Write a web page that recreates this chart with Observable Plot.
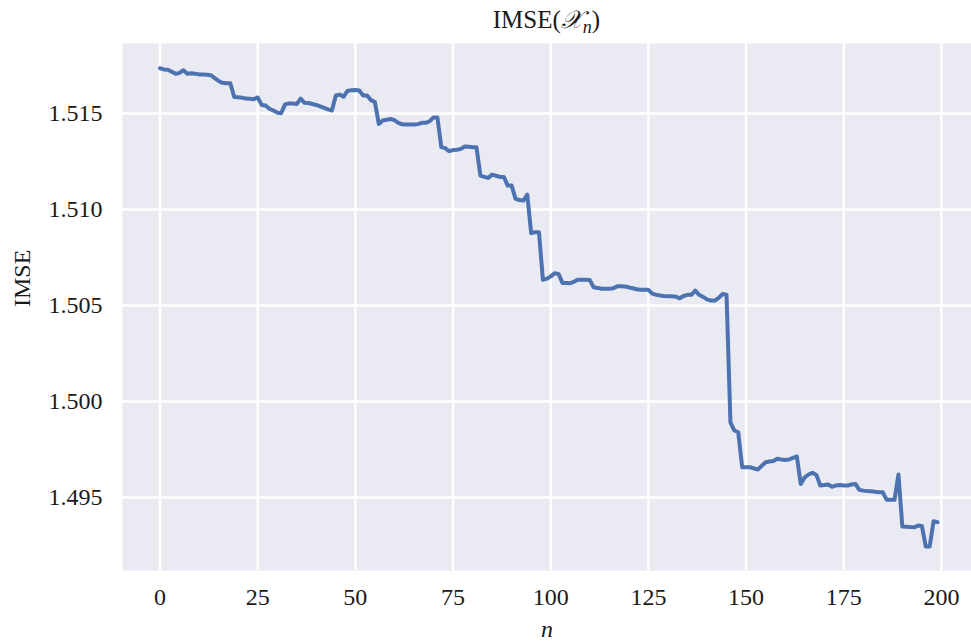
<!DOCTYPE html>
<html><head><meta charset="utf-8">
<script src="https://cdn.jsdelivr.net/npm/d3@7"></script>
<script src="https://cdn.jsdelivr.net/npm/@observablehq/plot@0.6"></script>
<style>body{margin:0;background:#fff;} svg{display:block}</style>
</head><body><div id="chart"></div>
<script>
const imse = [
1.51736,1.51730,1.51728,1.51718,1.51707,1.51712,1.51726,1.51708,1.51710,1.51708,
1.51704,1.51703,1.51702,1.51700,1.51685,1.51670,1.51660,1.51658,1.51658,1.51586,
1.51585,1.51583,1.51578,1.51577,1.51575,1.51584,1.51545,1.51542,1.51525,1.51516,
1.51505,1.51502,1.51548,1.51553,1.51552,1.51550,1.51578,1.51556,1.51555,1.51550,
1.51545,1.51538,1.51530,1.51522,1.51516,1.51594,1.51599,1.51588,1.51618,1.51622,
1.51623,1.51620,1.51594,1.51594,1.51570,1.51560,1.51446,1.51464,1.51468,1.51472,
1.51466,1.51452,1.51444,1.51443,1.51443,1.51443,1.51445,1.51452,1.51452,1.51460,
1.51480,1.51480,1.51325,1.51320,1.51304,1.51310,1.51312,1.51316,1.51328,1.51327,
1.51325,1.51325,1.51177,1.51170,1.51165,1.51182,1.51176,1.51170,1.51170,1.51125,
1.51125,1.51056,1.51050,1.51047,1.51078,1.50877,1.50882,1.50882,1.50634,1.50640,
1.50652,1.50668,1.50665,1.50618,1.50617,1.50616,1.50625,1.50635,1.50635,1.50635,
1.50633,1.50595,1.50592,1.50588,1.50587,1.50587,1.50590,1.50600,1.50600,1.50599,
1.50595,1.50590,1.50585,1.50582,1.50582,1.50582,1.50562,1.50556,1.50552,1.50550,
1.50549,1.50548,1.50546,1.50538,1.50550,1.50556,1.50556,1.50578,1.50556,1.50545,
1.50532,1.50526,1.50526,1.50540,1.50560,1.50556,1.49892,1.49849,1.49840,1.49658,
1.49658,1.49658,1.49652,1.49646,1.49665,1.49684,1.49688,1.49690,1.49702,1.49698,
1.49696,1.49698,1.49707,1.49714,1.49571,1.49605,1.49620,1.49629,1.49618,1.49563,
1.49565,1.49568,1.49556,1.49563,1.49565,1.49563,1.49563,1.49568,1.49571,1.49540,
1.49536,1.49534,1.49533,1.49530,1.49528,1.49527,1.49488,1.49488,1.49488,1.49620,
1.49349,1.49348,1.49346,1.49345,1.49354,1.49352,1.49245,1.49245,1.49377,1.49372
];
const xTicks = [0, 25, 50, 75, 100, 125, 150, 175, 200];
const yTicks = [1.495, 1.500, 1.505, 1.510, 1.515];
const yLabel = "IMSE";
const xLabel = "n";
const titleMain = "IMSE(";
const titleSym = "\u{1D4B3}";
const titleSub = "n";
const titleEnd = ")";

const data = imse.map((v, i) => ({n: i, v}));
const W = 971, H = 641, mL = 122, mR = 0, mT = 43, mB = 71;
const font = "'Liberation Serif', 'DejaVu Serif', serif";

const chart = Plot.plot({
  width: W, height: H,
  marginLeft: mL, marginRight: mR, marginTop: mT, marginBottom: mB,
  style: {fontFamily: font, fontSize: "24px", background: "#fff", color: "#1a1a1a"},
  x: {domain: [-9.6, 207.7]},
  y: {domain: [1.4912, 1.51865]},
  marks: [
    Plot.frame({fill: "#EAEAF2", stroke: null}),
    Plot.gridX(xTicks, {stroke: "#fff", strokeOpacity: 1, strokeWidth: 2.5}),
    Plot.gridY(yTicks, {stroke: "#fff", strokeOpacity: 1, strokeWidth: 2.5}),
    Plot.axisX(xTicks, {tickSize: 0, tickPadding: 17, label: null, tickFormat: d => String(d)}),
    Plot.axisY(yTicks, {tickSize: 0, tickPadding: 20, label: null, tickFormat: d3.format(".3f")}),
    Plot.line(data, {x: "n", y: "v", stroke: "#4C72B0", strokeWidth: 4, strokeLinejoin: "round", strokeLinecap: "round"}),
    Plot.text([yLabel], {frameAnchor: "left", dx: -100, rotate: -90, text: d => d}),
    Plot.text([xLabel], {frameAnchor: "bottom", dy: 66, lineAnchor: "bottom", text: d => d, fontStyle: "italic"})
  ]
});

const svg = d3.select(chart);
const t = svg.append("text")
  .attr("x", (mL + W - mR) / 2)
  .attr("y", mT - 15)
  .attr("text-anchor", "middle")
  .attr("fill", "#1a1a1a")
  .style("font-family", font)
  .style("font-size", "25px");
t.append("tspan").text(titleMain);
t.append("tspan").attr("font-family", "'DejaVu Sans', serif").attr("font-style", "italic").text(titleSym);
t.append("tspan").attr("font-style", "italic").attr("font-size", "18px").attr("dy", 5).text(titleSub);
t.append("tspan").attr("dy", -5).text(titleEnd);

document.getElementById("chart").appendChild(chart);
</script>
</body></html>
